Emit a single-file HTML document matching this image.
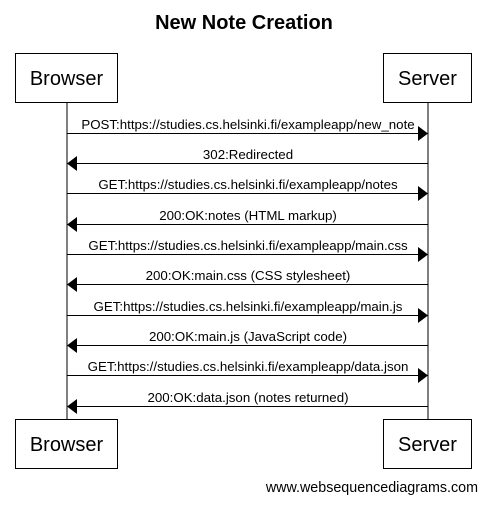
<!DOCTYPE html><html><head><style>body{margin:0;background:#fff}</style></head><body>
<svg width="487" height="502" xmlns="http://www.w3.org/2000/svg" font-family="Liberation Sans, sans-serif">
<text x="244" y="29" text-anchor="middle" font-size="20" font-weight="bold">New Note Creation</text>
<g stroke="#000" fill="none" stroke-width="1">
<line x1="67" y1="102" x2="67" y2="419"/><line x1="428" y1="102" x2="428" y2="419"/>
<rect x="15.5" y="53.5" width="102" height="49"/><rect x="383.5" y="53.5" width="88" height="49"/>
<rect x="15.5" y="419.5" width="102" height="49"/><rect x="383.5" y="419.5" width="88" height="49"/>
</g>
<g font-size="20" text-anchor="middle">
<text x="66.5" y="85">Browser</text><text x="427.5" y="85">Server</text>
<text x="66.5" y="451">Browser</text><text x="427.5" y="451">Server</text>
</g>
<g font-size="13.3" text-anchor="middle" stroke-width="1">
<line x1="67" y1="133.5" x2="420" y2="133.5" stroke="#000"/><polygon points="418,126 428,133.5 418,141"/>
<text x="248" y="129">POST:https://studies.cs.helsinki.fi/exampleapp/new_note</text>
<line x1="75" y1="163.5" x2="428" y2="163.5" stroke="#000"/><polygon points="77,156 67,163.5 77,171"/>
<text x="248" y="159">302:Redirected</text>
<line x1="67" y1="193.5" x2="420" y2="193.5" stroke="#000"/><polygon points="418,186 428,193.5 418,201"/>
<text x="248" y="189">GET:https://studies.cs.helsinki.fi/exampleapp/notes</text>
<line x1="75" y1="224.5" x2="428" y2="224.5" stroke="#000"/><polygon points="77,217 67,224.5 77,232"/>
<text x="248" y="220">200:OK:notes (HTML markup)</text>
<line x1="67" y1="254.5" x2="420" y2="254.5" stroke="#000"/><polygon points="418,247 428,254.5 418,262"/>
<text x="248" y="250">GET:https://studies.cs.helsinki.fi/exampleapp/main.css</text>
<line x1="75" y1="284.5" x2="428" y2="284.5" stroke="#000"/><polygon points="77,277 67,284.5 77,292"/>
<text x="248" y="280">200:OK:main.css (CSS stylesheet)</text>
<line x1="67" y1="315.5" x2="420" y2="315.5" stroke="#000"/><polygon points="418,308 428,315.5 418,323"/>
<text x="248" y="311">GET:https://studies.cs.helsinki.fi/exampleapp/main.js</text>
<line x1="75" y1="345.5" x2="428" y2="345.5" stroke="#000"/><polygon points="77,338 67,345.5 77,353"/>
<text x="248" y="341">200:OK:main.js (JavaScript code)</text>
<line x1="67" y1="375.5" x2="420" y2="375.5" stroke="#000"/><polygon points="418,368 428,375.5 418,383"/>
<text x="248" y="371">GET:https://studies.cs.helsinki.fi/exampleapp/data.json</text>
<line x1="75" y1="406.5" x2="428" y2="406.5" stroke="#000"/><polygon points="77,399 67,406.5 77,414"/>
<text x="248" y="402">200:OK:data.json (notes returned)</text>
</g>
<text x="478" y="492" text-anchor="end" font-size="14.3">www.websequencediagrams.com</text>
</svg>
</body></html>
